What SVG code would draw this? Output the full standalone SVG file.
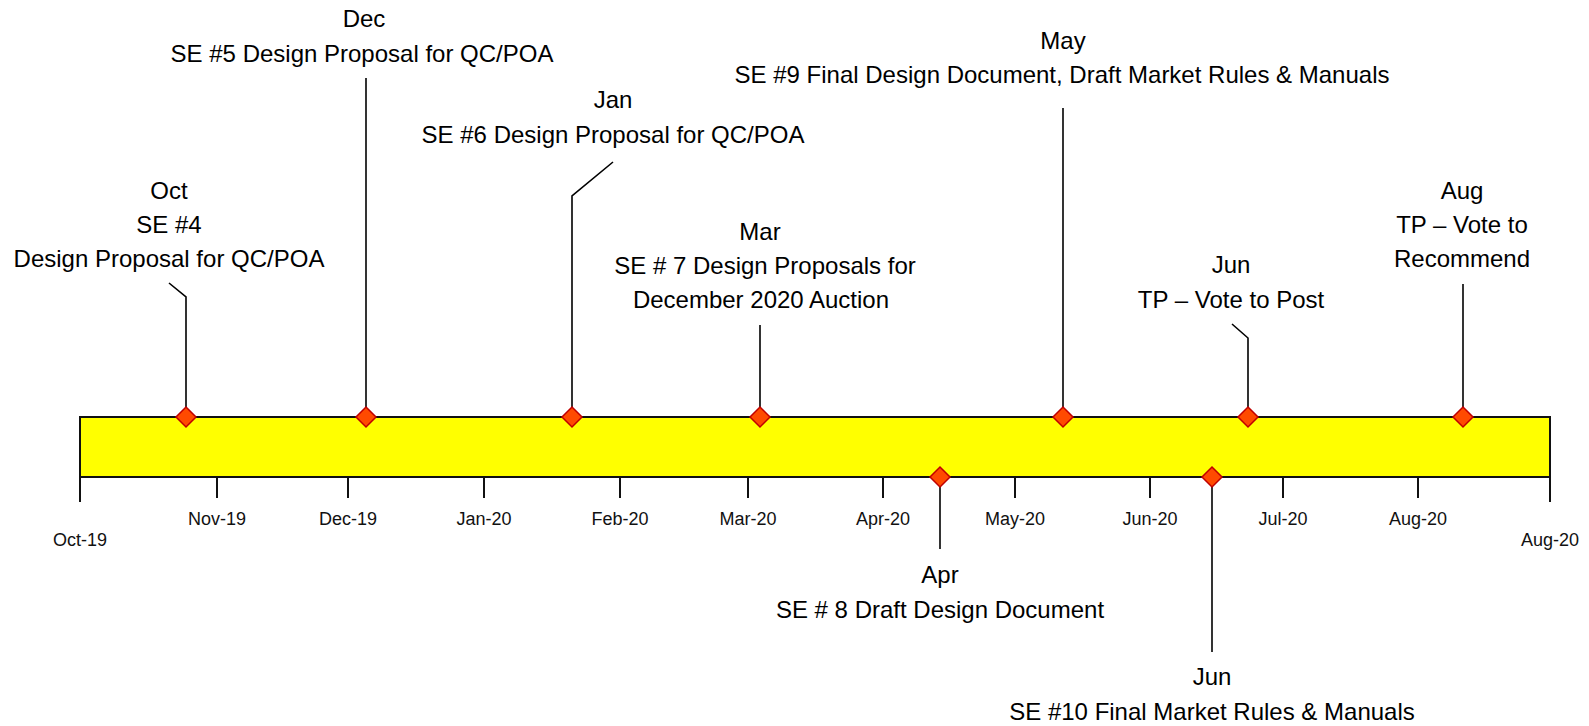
<svg xmlns="http://www.w3.org/2000/svg" width="1589" height="726" viewBox="0 0 1589 726">
<style>
.lbl{font-family:"Liberation Sans",Arial,sans-serif;font-size:24px;fill:#000;text-anchor:middle}
.tk{font-family:"Liberation Sans",Arial,sans-serif;font-size:18px;fill:#111;text-anchor:middle}
.tick{stroke:#111;stroke-width:2}
.con{fill:none;stroke:#000;stroke-width:1.6}
.dia{fill:#FF4A00;stroke:#C00000;stroke-width:1.5}
</style>
<defs>
<path id="d" class="dia" d="M0,-10 L10,0 L0,10 L-10,0 Z"/>
</defs>
<rect width="1589" height="726" fill="#fff"/>
<g id="bar">
<rect x="80" y="417" width="1470" height="60" fill="#FFFF00" stroke="#111" stroke-width="2"/>
</g>
<g id="axis">
<line class="tick" x1="80" y1="477" x2="80" y2="502"/>
<line class="tick" x1="217" y1="477" x2="217" y2="498"/>
<line class="tick" x1="348" y1="477" x2="348" y2="498"/>
<line class="tick" x1="484" y1="477" x2="484" y2="498"/>
<line class="tick" x1="620" y1="477" x2="620" y2="498"/>
<line class="tick" x1="748" y1="477" x2="748" y2="498"/>
<line class="tick" x1="883" y1="477" x2="883" y2="498"/>
<line class="tick" x1="1015" y1="477" x2="1015" y2="498"/>
<line class="tick" x1="1150" y1="477" x2="1150" y2="498"/>
<line class="tick" x1="1283" y1="477" x2="1283" y2="498"/>
<line class="tick" x1="1418" y1="477" x2="1418" y2="498"/>
<line class="tick" x1="1550" y1="477" x2="1550" y2="502"/>
<text class="tk" x="80" y="546">Oct-19</text>
<text class="tk" x="217" y="525">Nov-19</text>
<text class="tk" x="348" y="525">Dec-19</text>
<text class="tk" x="484" y="525">Jan-20</text>
<text class="tk" x="620" y="525">Feb-20</text>
<text class="tk" x="748" y="525">Mar-20</text>
<text class="tk" x="883" y="525">Apr-20</text>
<text class="tk" x="1015" y="525">May-20</text>
<text class="tk" x="1150" y="525">Jun-20</text>
<text class="tk" x="1283" y="525">Jul-20</text>
<text class="tk" x="1418" y="525">Aug-20</text>
<text class="tk" x="1550" y="546">Aug-20</text>
</g>
<g id="connectors">
<polyline class="con" points="169,283 186,297 186,417"/>
<polyline class="con" points="366,78 366,417"/>
<polyline class="con" points="613,162 572,196 572,417"/>
<polyline class="con" points="760,325 760,417"/>
<polyline class="con" points="1063,108 1063,417"/>
<polyline class="con" points="1232,324 1248,338 1248,417"/>
<polyline class="con" points="1463,284 1463,417"/>
<polyline class="con" points="940,477 940,549"/>
<polyline class="con" points="1212,477 1212,652"/>
</g>
<g id="m-oct"><use href="#d" x="186" y="417"/><text class="lbl" x="169" y="199">Oct</text><text class="lbl" x="169" y="233">SE #4</text><text class="lbl" x="169" y="267">Design Proposal for QC/POA</text></g>
<g id="m-dec"><use href="#d" x="366" y="417"/><text class="lbl" x="364" y="27">Dec</text><text class="lbl" x="362" y="62">SE #5 Design Proposal for QC/POA</text></g>
<g id="m-jan"><use href="#d" x="572" y="417"/><text class="lbl" x="613" y="108">Jan</text><text class="lbl" x="613" y="143">SE #6 Design Proposal for QC/POA</text></g>
<g id="m-mar"><use href="#d" x="760" y="417"/><text class="lbl" x="760" y="240">Mar</text><text class="lbl" x="765" y="274">SE # 7 Design Proposals for</text><text class="lbl" x="761" y="308">December 2020 Auction</text></g>
<g id="m-may"><use href="#d" x="1063" y="417"/><text class="lbl" x="1063" y="49">May</text><text class="lbl" x="1062" y="83">SE #9 Final Design Document, Draft Market Rules &amp; Manuals</text></g>
<g id="m-jun1"><use href="#d" x="1248" y="417"/><text class="lbl" x="1231" y="273">Jun</text><text class="lbl" x="1231" y="308">TP – Vote to Post</text></g>
<g id="m-aug"><use href="#d" x="1463" y="417"/><text class="lbl" x="1462" y="199">Aug</text><text class="lbl" x="1462" y="233">TP – Vote to</text><text class="lbl" x="1462" y="267">Recommend</text></g>
<g id="m-apr"><use href="#d" x="940" y="477"/><text class="lbl" x="940" y="583">Apr</text><text class="lbl" x="940" y="618">SE # 8 Draft Design Document</text></g>
<g id="m-jun2"><use href="#d" x="1212" y="477"/><text class="lbl" x="1212" y="685">Jun</text><text class="lbl" x="1212" y="720">SE #10 Final Market Rules &amp; Manuals</text></g>
</svg>
